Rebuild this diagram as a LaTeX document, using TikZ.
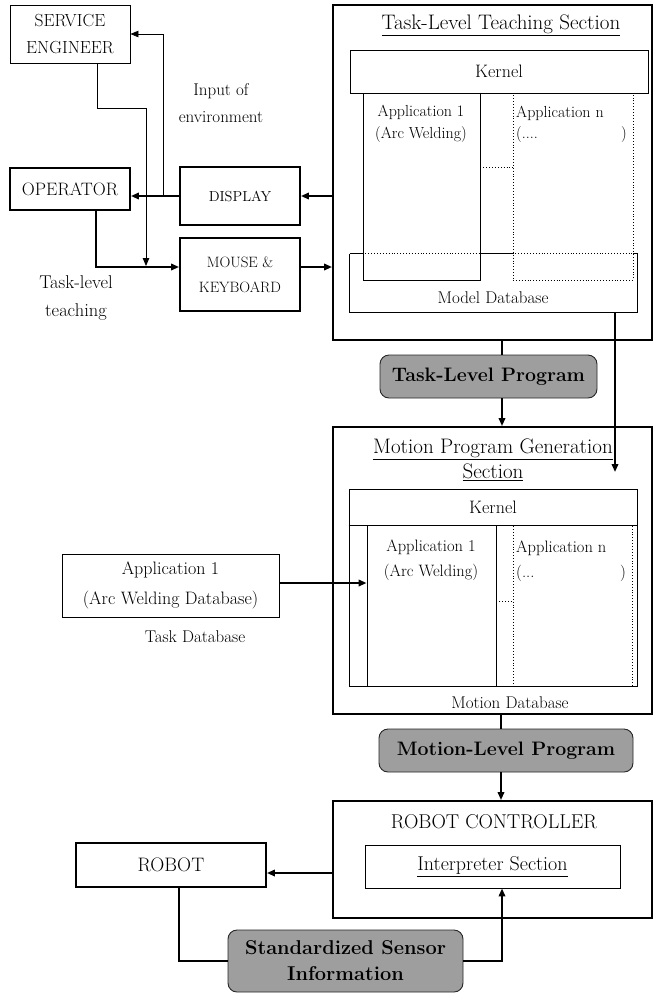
\documentclass[tikz,border=0pt]{standalone}
\usetikzlibrary{arrows.meta,calc}
\begin{document}
\begin{tikzpicture}[x=1pt,y=-1pt,
  thinln/.style={line width=0.8pt},
  thickln/.style={line width=1.9pt},
  box/.style={draw, line width=0.9pt, inner sep=0pt, align=center},
  tbox/.style={draw, line width=1.9pt, inner sep=0pt, align=center},
  dbox/.style={draw, dotted, line width=0.9pt, inner sep=0pt},
  pill/.style={draw=black!85, line width=0.9pt, fill=black!38, rounded corners=9pt, inner sep=0pt, align=center},
  arr/.style={-{Triangle[length=8pt,width=6.5pt]}},
  lbl/.style={inner sep=0pt, align=center},
  fa/.style={font=\fontsize{14.5}{18}\selectfont},
  fb/.style={font=\fontsize{17}{22}\selectfont},
  fc/.style={font=\fontsize{21}{25}\selectfont},
]
\useasboundingbox (0,0) rectangle (653,994);

% ---------- top left ----------
\node[box, minimum width=120pt, minimum height=58pt, font=\fontsize{17.5}{27}\selectfont] (se) at (70,34) {SERVICE\\ENGINEER};
\node[tbox, minimum width=120pt, minimum height=42pt, font=\fontsize{18}{20}\selectfont] (op) at (70,189) {OPERATOR};
\node[tbox, minimum width=120pt, minimum height=58pt, fa] (disp) at (240,196) {DISPLAY};
\node[tbox, minimum width=120pt, minimum height=73pt, font=\fontsize{15}{25}\selectfont] (mk) at (240,274.5) {MOUSE \&\\KEYBOARD};
\node[lbl, font=\fontsize{17}{27}\selectfont] (inenv) at (221,103) {Input of\\environment};
\node[lbl, font=\fontsize{18.5}{28}\selectfont] (tlt) at (76,298) {Task-level\\teaching};

% ---------- Task-Level Teaching Section ----------
\node[tbox, minimum width=319pt, minimum height=335pt] (tlts) at (492.5,172.5) {};
\node[lbl, fc] (tltsT) at (501,25) {\underline{Task-Level Teaching Section}};
\node[box, minimum width=298pt, minimum height=43pt, font=\fontsize{18}{20}\selectfont] (k1) at (499,71.5) {Kernel};
\node[box, minimum width=117pt, minimum height=187pt] (a1) at (421.5,186.5) {};
\node[dbox, minimum width=120pt, minimum height=187pt] (an) at (573,186.5) {};
\draw[line width=1.4pt] (a1.north east) -- (a1.south east);
\node[lbl, font=\fontsize{16}{22}\selectfont] (a1t) at (421,124) {Application 1\\(Arc Welding)};
\node[lbl, anchor=west, font=\fontsize{16}{22}\selectfont] (ant1) at (516,113) {Application n};
\node[lbl, anchor=west, font=\fontsize{16}{22}\selectfont] (ant2) at (516,135) {(....};
\node[lbl, font=\fontsize{16}{22}\selectfont] (ant3) at (624,135) {)};
\draw[dotted, line width=0.9pt] (a1.east |- 0,167) -- (an.west |- 0,167);
% Model database
\node[minimum width=287pt, minimum height=58pt, inner sep=0pt] (mdb) at (493.5,283) {};
\draw[line width=0.9pt] (mdb.north west) -- (mdb.south west) -- (mdb.south east) -- (mdb.north east) -- (an.east |- mdb.north);
\draw[line width=0.9pt] (mdb.north west) -- (a1.west |- mdb.north);
\draw[line width=1.2pt] (a1.east |- mdb.north) -- (an.west |- mdb.north);
\draw[dotted, line width=0.9pt] (a1.west |- mdb.north) -- (a1.east |- mdb.north);
\draw[dotted, line width=0.9pt] (an.west |- mdb.north) -- (an.east |- mdb.north);
\node[lbl, fb] (mdbt) at (493,298) {Model Database};

% ---------- connectors top left ----------
\coordinate (jn1) at (163,196);
\coordinate (jn2) at (146,266);
\draw[thickln, arr] (disp.west) -- (op.east |- disp.west);
\draw[thinln, arr] (jn1) |- (se.east);
\draw[thinln, arr] (se.south -| 97,0) |- (jn2 |- 0,108) -- (jn2);
\draw[thickln, arr] (op.south -| 96,0) |- (mk.west |- 0,267);
\draw[thickln, arr] (tlts.west |- disp.east) -- (disp.east);
\draw[thickln, arr] (mk.east |- 0,267) -- (tlts.west |- 0,267);

% ---------- Task-Level Program ----------
\node[pill, minimum width=217pt, minimum height=43pt, font=\fontsize{19.5}{25}\selectfont\bfseries] (tlp) at (488.5,376.5) {Task-Level Program};
\draw[thickln] (tlts.south -| 502,0) -- (tlp.north -| 502,0);

% ---------- Motion Program Generation Section ----------
\node[tbox, minimum width=319pt, minimum height=287pt] (mpg) at (492.5,570.5) {};
\draw[thickln, arr] (tlp.south -| 502,0) -- (mpg.north -| 502,0);
\node[lbl, font=\fontsize{21}{25}\selectfont] (mpgT) at (493,459.5) {\underline{Motion Program Generation}\\\underline{Section}};
\node[box, minimum width=288pt, minimum height=197pt] (k2f) at (493,587.5) {};
\node[lbl, font=\fontsize{18}{20}\selectfont] (k2) at (493,507) {Kernel};
\draw[line width=0.9pt] (k2f.west |- 0,525) -- (k2f.east |- 0,525);
\node[box, minimum width=129pt, minimum height=161pt] (a2) at (431.5,605.5) {};
\node[dbox, minimum width=119pt, minimum height=161pt] (bn) at (572.5,605.5) {};
\draw[dotted, line width=0.9pt] (a2.east |- 0,601) -- (bn.west |- 0,601);
\node[lbl, font=\fontsize{16.5}{25}\selectfont] (a2t) at (431,560.5) {Application 1\\(Arc Welding)};
\node[lbl, anchor=west, font=\fontsize{16.5}{22}\selectfont] (bnt1) at (516,548) {Application n};
\node[lbl, anchor=west, font=\fontsize{16.5}{22}\selectfont] (bnt2) at (516,573) {(...};
\node[lbl, font=\fontsize{16.5}{22}\selectfont] (bnt3) at (623,573) {)};
\node[lbl, fb] (mdb2) at (510,703) {Motion Database};
% Model database into motion section
\coordinate (mdbOut) at (615,312);
\coordinate (mpgIn) at (615,472);
\draw[thickln, arr] (mdbOut) -- (mpgIn);

% Task database
\node[box, minimum width=217pt, minimum height=63pt, font=\fontsize{18}{30}\selectfont] (tdb) at (170.5,585.5) {Application 1\\(Arc Welding Database)};
\node[lbl, font=\fontsize{17}{20}\selectfont] (tdbl) at (195,637) {Task Database};
\draw[thickln, arr] (tdb.east |- 0,583) -- (a2.west |- 0,583);

% ---------- Motion-Level Program ----------
\node[pill, minimum width=254pt, minimum height=43pt, font=\fontsize{19.5}{25}\selectfont\bfseries] (mlp) at (506,750.5) {Motion-Level Program};
\draw[thickln] (mpg.south -| 501,0) -- (mlp.north -| 501,0);

% ---------- Robot controller ----------
\node[tbox, minimum width=319pt, minimum height=117pt] (rc) at (492.5,859.5) {};
\draw[thickln, arr] (mlp.south -| 501,0) -- (rc.north -| 501,0);
\node[lbl, font=\fontsize{20}{24}\selectfont] (rct) at (494,822) {ROBOT CONTROLLER};
\node[box, minimum width=255pt, minimum height=43pt, font=\fontsize{20}{24}\selectfont] (interp) at (492.5,866.5) {\underline{Interpreter Section}};
\node[tbox, minimum width=190pt, minimum height=44pt, font=\fontsize{19.5}{22}\selectfont] (robot) at (171,865) {ROBOT};
\draw[thickln, arr] (rc.west |- 0,873) -- (robot.east |- 0,873);

% ---------- Sensor information ----------
\node[pill, minimum width=235pt, minimum height=62pt, font=\fontsize{20}{26}\selectfont\bfseries] (sens) at (345.5,961) {Standardized Sensor\\Information};
\draw[thickln] (robot.south -| 179,0) |- (sens.west);
\draw[thickln, arr] (sens.east) -| (interp.south -| 502,0);
\end{tikzpicture}
\end{document}
